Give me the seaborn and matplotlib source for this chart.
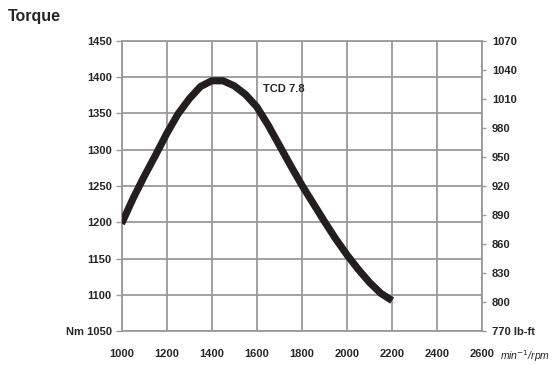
import matplotlib
matplotlib.use("Agg")
import matplotlib.pyplot as plt
import seaborn as sns
import pandas as pd

rpm = [1000, 1050, 1100, 1150, 1200, 1250, 1300, 1350, 1400, 1450, 1500, 1550, 1600,
       1650, 1700, 1750, 1800, 1850, 1900, 1950, 2000, 2050, 2100, 2150, 2200]
torque_nm = [1198, 1232, 1263, 1292, 1322, 1349, 1370, 1387, 1395, 1395, 1388, 1376, 1359,
             1334, 1306, 1278, 1251, 1226, 1201, 1177, 1155, 1135, 1117, 1102, 1092]
x_ticks = [1000, 1200, 1400, 1600, 1800, 2000, 2200, 2400, 2600]
nm_ticks = [1050, 1100, 1150, 1200, 1250, 1300, 1350, 1400, 1450]
lbft_ticks = [770, 800, 830, 860, 890, 920, 950, 980, 1010, 1040, 1070]
series_label = "TCD 7.8"

df = pd.DataFrame({"rpm": rpm, "torque": torque_nm})

sns.set_style("white")
plt.rcParams['font.family'] = ['Liberation Sans', 'DejaVu Sans']

fig = plt.figure(figsize=(5.55, 3.65), dpi=100)
ax = fig.add_axes([0.219, 0.093, 0.650, 0.795])

sns.lineplot(data=df, x="rpm", y="torque", ax=ax, color="#231f1f", linewidth=5.2,
             solid_capstyle="butt", solid_joinstyle="round", zorder=3)

ax.set_xlim(1000, 2600)
ax.set_ylim(1050, 1450)
ax.set_xticks(x_ticks)
ax.set_yticks(nm_ticks)
ax.set_xticklabels([str(t) for t in x_ticks])
ax.set_yticklabels(["Nm 1050" if t == 1050 else str(t) for t in nm_ticks])
ax.grid(True, color="#9a9a9a", linewidth=1.3)
for s in ax.spines.values():
    s.set_color("#9a9a9a")
    s.set_linewidth(1.3)
ax.tick_params(axis="both", which="both", length=4, width=1, color="#9a9a9a",
               labelsize=8, pad=3)
ax.tick_params(axis="x", pad=9)
for lab in ax.get_xticklabels() + ax.get_yticklabels():
    lab.set_fontweight("bold")
ax.set_xlabel("")
ax.set_ylabel("")

ax2 = ax.twinx()
ax2.set_ylim(770, 1070)
ax2.set_yticks(lbft_ticks)
ax2.set_yticklabels(["770 lb-ft" if t == 770 else str(t) for t in lbft_ticks])
ax2.tick_params(axis="y", length=3, width=1, color="#9a9a9a", labelsize=8, pad=4)
for lab in ax2.get_yticklabels():
    lab.set_fontweight("bold")
for s in ax2.spines.values():
    s.set_visible(False)
ax2.grid(False)

ax.text(1628, 1384, series_label, fontsize=8, fontweight="bold", va="center", ha="left", zorder=4)
ax.text(1.05, -0.085, "min$^{-1}$/rpm", transform=ax.transAxes, fontsize=7.5, fontstyle="italic",
        ha="left", va="center")
fig.text(0.015, 0.955, "Torque", fontsize=11.5, fontweight="bold", ha="left", va="center")

fig.savefig("out.png", dpi=100)
